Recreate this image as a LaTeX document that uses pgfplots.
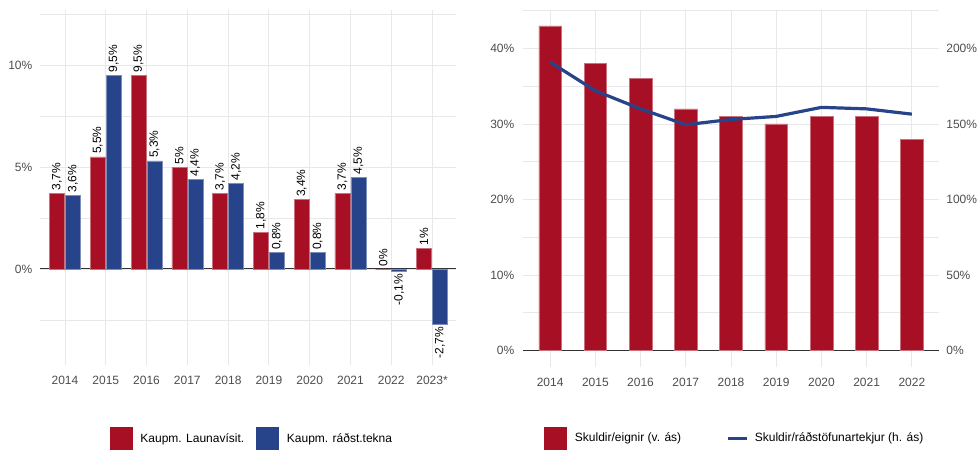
\documentclass[border=0pt]{standalone}
\usepackage{pgfplots}
\pgfplotsset{compat=1.18}
\usepackage{pgfplotstable}
\usepackage{fontspec}
\setmainfont{Liberation Sans}
\definecolor{myred}{RGB}{166,15,36}
\definecolor{myblue}{RGB}{39,68,138}
\definecolor{tickgray}{RGB}{77,77,77}
\definecolor{gridgray}{RGB}{232,232,232}

\pgfplotstableread{
x red blue
0 3.7 3.6
1 5.5 9.5
2 9.5 5.3
3 5.0 4.4
4 3.7 4.2
5 1.8 0.8
6 3.4 0.8
7 3.7 4.5
8 0.0 -0.1
9 1.0 -2.7
}\tablekaup

\pgfplotstableread{
x eign rad
0 43 191
1 38 172
2 36 160
3 32 149.5
4 31 153
5 30 155
6 31 161
7 31 160
8 28 156.5
}\tableskuld

\pgfplotsset{
  base/.style={
    scale only axis,
    axis line style={draw=none},
    major tick length=0pt, minor tick length=0pt,
    tick style={draw=none},
    ticklabel style={font=\fontsize{9}{10}\selectfont, text=tickgray},
    grid style={gridgray, line width=0.6pt},
    minor grid style={gridgray, line width=0.6pt},
    xticklabel style={yshift=-5pt},
    clip=false,
  },
  sqlegend/.style={legend image code/.code={\draw[##1, draw=none] (0pt,-8.6pt) rectangle (17.2pt,8.6pt); \path[draw=none, fill=none] (0pt,0pt) rectangle (21pt,0.1pt);}},
  linelegend/.style={legend image code/.code={\draw[##1] (0pt,0pt) -- (14.3pt,0pt); \path[draw=none, fill=none] (0pt,0pt) rectangle (18pt,0.1pt);}},
  lab/.style={forget plot, only marks, mark=none,
    point meta=explicit symbolic,
    nodes near coords={\pgfplotspointmeta\%}},
  labup/.style={every node near coord/.append style={anchor=west, rotate=90, font=\fontsize{9}{10}\selectfont, inner sep=2pt, text=black}},
  labdown/.style={every node near coord/.append style={anchor=east, rotate=90, font=\fontsize{9}{10}\selectfont, inner sep=2pt, text=black}},
}

\begin{document}
\begin{tikzpicture}
\path[use as bounding box] (0,0) rectangle (732.75pt,337.5pt);

% left panel
\begin{axis}[base, at={(30.375pt,63.75pt)}, anchor=south west,
  width=312pt, height=266.25pt,
  xmin=-0.6, xmax=9.6, ymin=-4.71, ymax=12.7,
  xtick={0,...,9}, xticklabels={2014,2015,2016,2017,2018,2019,2020,2021,2022,2023*},
  ytick={0,5,10}, yticklabels={0\%,5\%,10\%},
  minor ytick={-2.5,2.5,7.5,12.5},
  yticklabel style={xshift=-2.6pt},
  xmajorgrids, ymajorgrids, yminorgrids,
  extra y ticks={0}, extra y tick labels={},
  extra y tick style={grid=major, major grid style={black!80, line width=0.7pt}},
  sqlegend,
  legend style={draw=none, fill=none, font=\fontsize{9}{10}\selectfont, legend columns=2,
    at={(0.509,-0.208)}, anchor=center,
    /tikz/every even column/.append style={column sep=7pt}},
]
\addplot[ybar, bar width=11.25pt, bar shift=-6pt, fill=myred, draw=myred!60!white, line width=0.4pt]
  table[x=x, y=red]{\tablekaup};
\addlegendentry{Kaupm. Launavísit.}
\addplot[ybar, bar width=11.25pt, bar shift=6pt, fill=myblue, draw=myblue!60!white, line width=0.4pt]
  table[x=x, y=blue]{\tablekaup};
\addlegendentry{Kaupm. ráðst.tekna}
% value labels (x offset = bar shift of 6pt in axis units)
\addplot[lab, labup] coordinates {
  (-0.196,3.7) [3,7] (0.804,5.5) [5,5] (1.804,9.5) [9,5] (2.804,5.0) [5] (3.804,3.7) [3,7]
  (4.804,1.8) [1,8] (5.804,3.4) [3,4] (6.804,3.7) [3,7] (7.804,0.0) [0] (8.804,1.0) [1]};
\addplot[lab, labup] coordinates {
  (0.196,3.6) [3,6] (1.196,9.5) [9,5] (2.196,5.3) [5,3] (3.196,4.4) [4,4] (4.196,4.2) [4,2]
  (5.196,0.8) [0,8] (6.196,0.8) [0,8] (7.196,4.5) [4,5]};
\addplot[lab, labdown] coordinates {
  (8.196,-0.1) [-0,1] (9.196,-2.7) [-2,7]};
\end{axis}

% right panel, bars
\begin{axis}[base, at={(392.25pt,62.25pt)}, anchor=south west,
  width=312pt, height=267.75pt,
  xmin=-0.6, xmax=8.6, ymin=-2.2, ymax=45.1,
  xtick={0,...,8}, xticklabels={2014,2015,2016,2017,2018,2019,2020,2021,2022},
  ytick={0,10,20,30,40}, yticklabels={0\%,10\%,20\%,30\%,40\%},
  minor ytick={5,15,25,35,45},
  yticklabel style={xshift=-3pt},
  xmajorgrids, ymajorgrids, yminorgrids,
  extra y ticks={0}, extra y tick labels={},
  extra y tick style={grid=major, major grid style={black!80, line width=0.7pt}},
]
\addplot[ybar, bar width=17pt, bar shift=0pt, fill=myred, draw=myred!60!white, line width=0.4pt]
  table[x=x, y=eign]{\tableskuld};
\end{axis}

% right panel, line
\begin{axis}[base, at={(392.25pt,62.25pt)}, anchor=south west,
  width=312pt, height=267.75pt,
  xmin=-0.6, xmax=8.6, ymin=-11, ymax=225.5,
  axis y line*=right, axis x line*=bottom,
  xtick=\empty,
  ytick={0,50,100,150,200}, yticklabels={0\%,50\%,100\%,150\%,200\%},
  yticklabel style={xshift=2pt},
  legend style={draw=none, fill=none, font=\fontsize{9}{10}\selectfont, legend columns=2,
    at={(0.51,-0.2)}, anchor=center,
    /tikz/every even column/.append style={column sep=32pt}},
]
\addlegendimage{fill=myred, sqlegend}
\addlegendentry{Skuldir/eignir (v. ás)}
\addplot[myblue, line width=2.4pt, line join=round, linelegend]
  table[x=x, y=rad]{\tableskuld};
\addlegendentry{Skuldir/ráðstöfunartekjur (h. ás)}
\end{axis}
\end{tikzpicture}
\end{document}
